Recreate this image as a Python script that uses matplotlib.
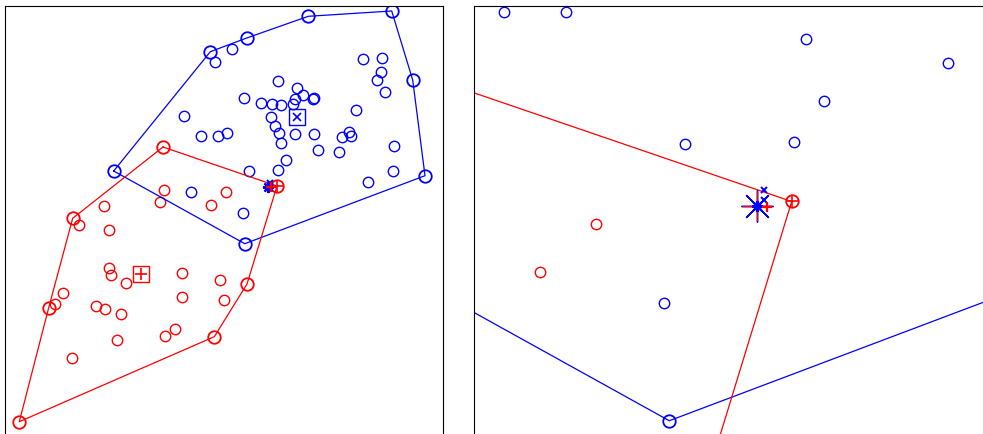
import matplotlib.pyplot as plt

# blue class: convex hull vertices (in order) and the remaining samples
blue_hull_x = [1.087, 2.053, 2.417, 3.033, 3.867, 4.077, 4.200, 2.398]
blue_hull_y = [2.720, 3.913, 4.050, 4.267, 4.320, 3.630, 2.673, 1.993]
blue_x = [2.267, 2.103, 3.580, 3.773, 3.757, 3.717, 3.800, 2.727, 2.387, 2.920,
          2.983, 2.897, 3.083, 3.093, 2.557, 2.667, 2.760, 2.880, 1.793, 2.657,
          3.513, 2.703, 2.743, 2.759, 2.897, 3.087, 1.964, 2.127, 2.217, 3.370,
          3.443, 3.463, 3.131, 3.337, 3.893, 2.805, 2.439, 2.726, 3.877, 3.627,
          1.860, 2.385]
blue_y = [3.940, 3.807, 3.837, 3.853, 3.713, 3.627, 3.513, 3.620, 3.450, 3.553,
          3.480, 3.437, 3.440, 3.453, 3.397, 3.393, 3.383, 3.387, 3.270, 3.260,
          3.330, 3.167, 3.097, 2.998, 3.093, 3.093, 3.069, 3.070, 3.103, 3.063,
          3.110, 3.067, 2.935, 2.910, 2.970, 2.835, 2.721, 2.727, 2.723, 2.613,
          2.510, 2.304]

# red class
red_hull_x = [1.580, 2.720, 2.420, 2.093, 0.143, 0.437, 0.677]
red_hull_y = [2.960, 2.570, 1.590, 1.063, 0.213, 1.353, 2.247]
red_x = [1.587, 1.547, 2.206, 2.057, 0.993, 0.743, 1.040, 1.037, 1.057, 1.207,
         1.767, 2.150, 1.770, 2.190, 0.583, 0.500, 0.907, 1.000, 1.160, 1.697,
         1.600, 1.117, 0.670]
red_y = [2.530, 2.407, 2.512, 2.385, 2.373, 2.180, 2.133, 1.747, 1.680, 1.600,
         1.697, 1.633, 1.463, 1.430, 1.500, 1.390, 1.367, 1.343, 1.293, 1.140,
         1.073, 1.027, 0.850]

blue_mean = (2.917, 3.257)
red_mean = (1.357, 1.690)

# test point and its nearby estimates
test_x, test_y = 2.630, 2.557
blue_est_x = [2.648, 2.646]
blue_est_y = [2.600, 2.574]
red_est_x, red_est_y = 2.656, 2.556

circ = dict(ls="none", marker="o", mfc="none", ms=7.5, mew=1.0)


def inside(xs, ys, xlim, ylim):
    # markers are only drawn when their centre lies inside the axes
    keep = [(x, y) for x, y in zip(xs, ys)
            if xlim[0] <= x <= xlim[1] and ylim[0] <= y <= ylim[1]]
    return [p[0] for p in keep], [p[1] for p in keep]


def draw(ax, xlim, ylim, zoomed):
    ax.plot(*inside(blue_x, blue_y, xlim, ylim), mec="b", **circ)
    ax.plot(*inside(red_x, red_y, xlim, ylim), mec="r", **circ)

    ax.plot(blue_hull_x + blue_hull_x[:1], blue_hull_y + blue_hull_y[:1],
            color="b", lw=0.9)
    ax.plot(red_hull_x + red_hull_x[:1], red_hull_y + red_hull_y[:1],
            color="r", lw=0.9)
    ax.plot(*inside(blue_hull_x, blue_hull_y, xlim, ylim), "o", mfc="none",
            mec="b", ms=9, mew=1.3)
    ax.plot(*inside(red_hull_x, red_hull_y, xlim, ylim), "o", mfc="none",
            mec="r", ms=9, mew=1.3)
    ax.plot(red_hull_x[1], red_hull_y[1], "+", color="r", ms=8, mew=1.2)

    ax.plot(*blue_mean, "s", mfc="none", mec="b", ms=11, mew=1.0)
    ax.plot(*blue_mean, "x", color="b", ms=6, mew=1.2)
    ax.plot(*red_mean, "s", mfc="none", mec="r", ms=11, mew=1.0)
    ax.plot(*red_mean, "+", color="r", ms=8, mew=1.2)

    if zoomed:
        ax.plot(test_x, test_y, marker=(8, 2, 0), color="b", ms=23, mew=1.0)
        ax.plot(test_x, test_y, "+", color="r", ms=21, mew=1.0)
    ax.plot(test_x, test_y, marker=(8, 2, 0), color="b", ms=8, mew=1.6)
    ax.plot(blue_est_x, blue_est_y, "x", color="b", ms=5, mew=1.4)
    ax.plot(red_est_x, red_est_y, "+", color="r", ms=6.5, mew=1.6)

    ax.set_xlim(*xlim)
    ax.set_ylim(*ylim)
    ax.set_xticks([])
    ax.set_yticks([])
    for s in ax.spines.values():
        s.set_linewidth(0.8)
        s.set_color("black")


fig = plt.figure(figsize=(9.83, 4.34), dpi=100)

ax1 = fig.add_axes([5 / 983, -9 / 434, 437.7 / 983, 437 / 434])
draw(ax1, (0, 4.377), (0, 4.37), False)

ax2 = fig.add_axes([474.3 / 983, -16 / 434, 528.7 / 983, 444 / 434])
draw(ax2, (1.885, 3.276), (1.916, 3.0845), True)

fig.savefig("out.png", dpi=100)
